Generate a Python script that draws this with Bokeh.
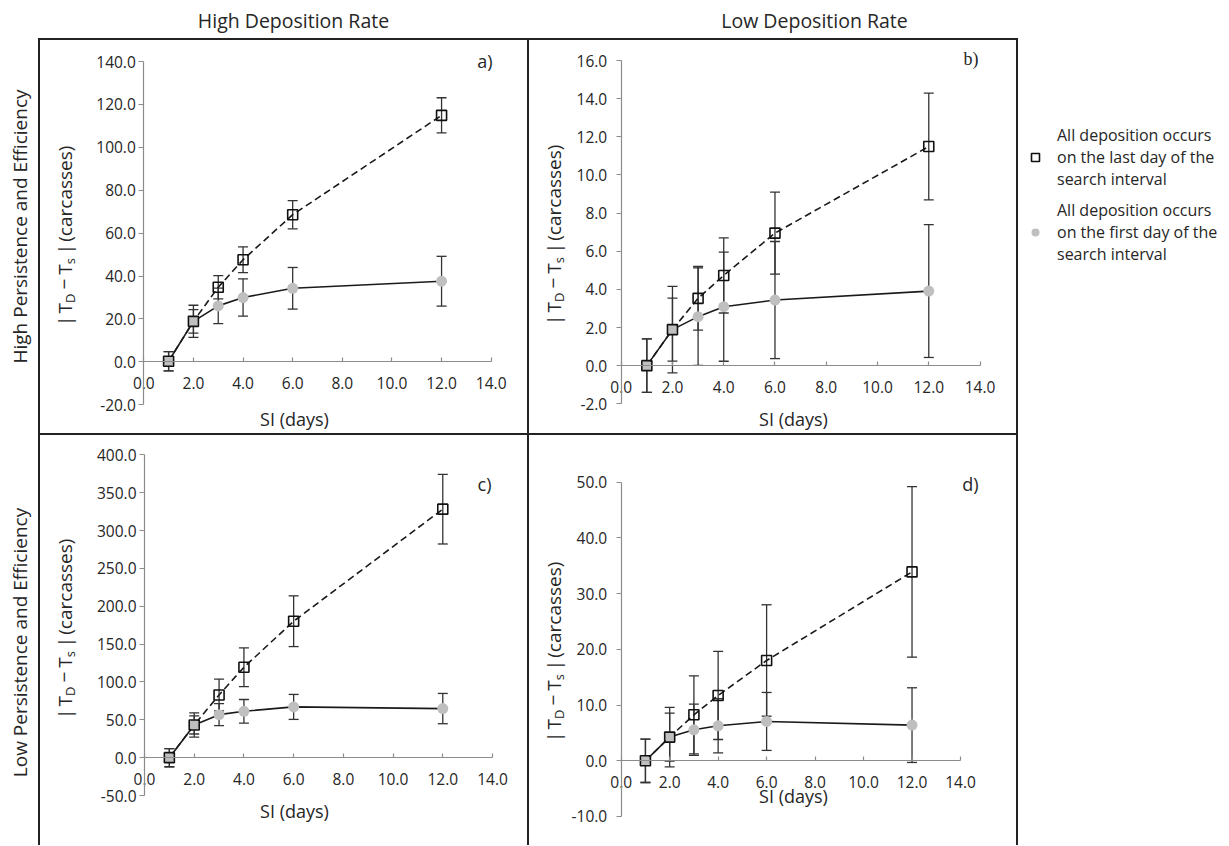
import math
from bokeh.plotting import figure
from bokeh.models import (Range1d, SingleIntervalTicker, NumeralTickFormatter, ColumnDataSource,
                          Whisker, TeeHead, Label, Legend, LegendItem, Spacer)
from bokeh.layouts import row, column
from bokeh.embed import file_html
from bokeh.resources import INLINE

# ---------------- data ----------------
SI = [1, 2, 3, 4, 6, 12]

# panel a: high deposition rate, high persistence & efficiency
a_last = [0.3, 18.9, 34.8, 47.6, 68.6, 114.9]
a_last_err = [4.5, 7.5, 5.4, 6.0, 6.6, 8.2]
a_first = [0.3, 18.9, 26.1, 30.0, 34.3, 37.6]
a_first_err = [4.5, 5.5, 8.3, 8.7, 9.7, 11.6]

# panel b: low deposition rate, high persistence & efficiency
b_last = [0.0, 1.89, 3.53, 4.73, 6.95, 11.49]
b_last_err = [1.4, 2.27, 1.67, 1.97, 2.15, 2.8]
b_first = [0.0, 1.89, 2.57, 3.09, 3.44, 3.91]
b_first_err = [1.4, 1.65, 2.56, 2.86, 3.07, 3.48]

# panel c: high deposition rate, low persistence & efficiency
c_last = [0.0, 43.2, 82.8, 119.4, 180.2, 328.2]
c_last_err = [12.0, 16.0, 21.0, 25.5, 33.5, 46.0]
c_first = [0.0, 43.2, 56.8, 61.2, 67.0, 64.8]
c_first_err = [12.0, 12.0, 14.5, 15.6, 16.5, 20.0]

# panel d: low deposition rate, low persistence & efficiency
d_last = [0.0, 4.25, 8.25, 11.72, 18.0, 33.9]
d_last_err = [3.9, 5.35, 7.0, 7.9, 10.0, 15.3]
d_first = [0.0, 4.25, 5.56, 6.28, 7.06, 6.4]
d_first_err = [3.9, 4.3, 4.6, 4.85, 5.2, 6.7]

col_titles = ["High Deposition Rate", "Low Deposition Rate"]
row_titles = ["High Persistence and Efficiency", "Low Persistence and Efficiency"]
legend_labels = ["All deposition occurs\non the last day of the\nsearch interval",
                 "All deposition occurs\non the first day of the\nsearch interval"]
x_label = "SI (days)"

FONT = "Open Sans"
TXT = "#262626"
AX = "#8c8c8c"
LINE = "#1a1a1a"
GRAY = "#bfbfbf"
BOX = "#222222"


def add_ylabel(p, xb, yc):
    fs, sfs = 19, 13
    pieces = [("|", 0, fs, 0.55, 2), ("T", 0, fs, 0.55, 0), ("D", 1, sfs, 0.73, 4),
              ("\u2212", 0, fs, 0.57, 4), ("T", 0, fs, 0.55, 0), ("s", 1, sfs, 0.47, 4),
              ("|", 0, fs, 0.55, 2), (" (carcasses)", 0, fs, 5.30, 0)]
    total = sum(w * f + g for _, _, f, w, g in pieces)
    y = yc - total / 2
    for t, sub, f, w, g in pieces:
        p.add_layout(Label(x=xb + (5 if sub else 0), y=y, x_units="screen", y_units="screen",
                           text=t, angle=math.pi / 2, text_align="left",
                           text_baseline="alphabetic", text_font=FONT,
                           text_font_size=f"{f}px", text_color=TXT))
        y += w * f + g


def make_panel(last, last_err, first, first_err, xr, yr, ybounds, dy, w, h,
               tag, tag_xy, tag_font, si_xy, ylab_xy, ystand):
    p = figure(width=w, height=h, x_range=Range1d(*xr), y_range=Range1d(*yr),
               output_backend="svg", toolbar_location=None, min_border=0)
    p.outline_line_color = None
    p.grid.visible = False
    p.background_fill_color = "white"
    p.border_fill_color = "white"

    xa = p.xaxis[0]
    xa.fixed_location = 0
    xa.bounds = (0, 14)
    xa.ticker = SingleIntervalTicker(interval=2)
    xa.formatter = NumeralTickFormatter(format="0.0")
    xa.minor_tick_line_color = None
    xa.major_tick_in = 4
    xa.major_tick_out = 0
    xa.major_label_standoff = 11
    ya = p.yaxis[0]
    ya.fixed_location = 0
    ya.bounds = ybounds
    ya.ticker = SingleIntervalTicker(interval=dy)
    ya.formatter = NumeralTickFormatter(format="0.0")
    ya.minor_tick_line_color = None
    ya.major_tick_in = 0
    ya.major_tick_out = 5
    ya.major_label_standoff = ystand
    for ax in (xa, ya):
        ax.axis_line_color = AX
        ax.axis_line_width = 1.2
        ax.major_tick_line_color = AX
        ax.major_tick_line_width = 1.2
        ax.major_label_text_font = FONT
        ax.major_label_text_font_size = "15.5px"
        ax.major_label_text_color = TXT

    src_f = ColumnDataSource(dict(x=SI, y=first,
                                  lo=[v - e for v, e in zip(first, first_err)],
                                  hi=[v + e for v, e in zip(first, first_err)]))
    src_l = ColumnDataSource(dict(x=SI, y=last,
                                  lo=[v - e for v, e in zip(last, last_err)],
                                  hi=[v + e for v, e in zip(last, last_err)]))

    p.line("x", "y", source=src_f, line_color=LINE, line_width=1.6)
    p.line("x", "y", source=src_l, line_color=LINE, line_width=1.6, line_dash="7 4")
    for src in (src_f, src_l):
        wk = Whisker(source=src, base="x", upper="hi", lower="lo",
                     line_color="#333333", line_width=1.3,
                     upper_head=TeeHead(size=10, line_color="#333333", line_width=1.3),
                     lower_head=TeeHead(size=10, line_color="#333333", line_width=1.3))
        p.add_layout(wk)
    p.scatter("x", "y", source=src_f, marker="circle", size=11, fill_color=GRAY, line_color=None)
    p.scatter("x", "y", source=src_l, marker="square", size=10, fill_color=None,
              line_color="#111111", line_width=1.6)

    p.add_layout(Label(x=tag_xy[0], y=tag_xy[1], x_units="screen", y_units="screen", text=tag,
                       text_align="right", text_baseline="top", text_font=tag_font,
                       text_font_size="18px", text_color=TXT))
    p.add_layout(Label(x=si_xy[0], y=si_xy[1], x_units="screen", y_units="screen", text=x_label,
                       text_align="center", text_baseline="middle", text_font=FONT,
                       text_font_size="18px", text_color=TXT))
    add_ylabel(p, *ylab_xy)
    return p


pa = make_panel(a_last, a_last_err, a_first, a_first_err, (-4.163, 15.463), (-33.38, 149.79),
                (-20, 140), 20, 487, 393, "a)", (452, 385), FONT, (254, 15), (24, 200), 3)
pb = make_panel(b_last, b_last_err, b_first, b_first_err, (-3.578, 15.423), (-3.557, 17.049),
                (-2, 16), 2, 487, 393, "b)", (449, 385), "Liberation Serif", (264, 15), (24, 201), 9)
pc = make_panel(c_last, c_last_err, c_first, c_first_err, (-4.184, 15.408), (-116.04, 425.49),
                (-50, 400), 50, 487, 410, "c)", (451, 374), FONT, (254, 35), (24, 219), 3)
pd = make_panel(d_last, d_last_err, d_first, d_first_err, (-3.784, 16.311), (-15.205, 58.38),
                (-10, 50), 10, 487, 410, "d)", (449, 374), FONT, (264, 50), (24, 196), 9)


def plain(w, h, **kw):
    f = figure(width=w, height=h, output_backend="svg", toolbar_location=None,
               x_axis_location=None, y_axis_location=None, min_border=0, **kw)
    f.outline_line_color = None
    f.grid.visible = False
    return f


def bar(w, h):
    return Spacer(width=w, height=h, styles={"background-color": BOX})


# header strip
top = plain(1228, 38, x_range=Range1d(0, 1228), y_range=Range1d(0, 38))
for t, xc in zip(col_titles, [293, 814]):
    top.add_layout(Label(x=xc, y=18, text=t, text_align="center", text_baseline="middle",
                         text_font=FONT, text_font_size="19.5px", text_color=TXT))

# row-title strip
left = plain(38, 807, x_range=Range1d(0, 38), y_range=Range1d(0, 807))
for t, yc in zip(row_titles, [619, 203]):
    left.add_layout(Label(x=19, y=yc, text=t, angle=math.pi / 2, text_align="center",
                          text_baseline="middle", text_font=FONT, text_font_size="19px",
                          text_color=TXT))

# legend strip
right = plain(210, 807, x_range=Range1d(0, 1), y_range=Range1d(0, 1))
r1 = right.scatter(x=[math.nan], y=[math.nan], marker="square", size=10, fill_color=None,
                   line_color="#111111", line_width=1.6)
r2 = right.scatter(x=[math.nan], y=[math.nan], marker="circle", size=12, fill_color=GRAY,
                   line_color=None)
leg = Legend(items=[LegendItem(label=legend_labels[0], renderers=[r1]),
                    LegendItem(label=legend_labels[1], renderers=[r2])],
             location=(7, 580), margin=0, padding=0, spacing=9, glyph_width=20,
             glyph_height=20, label_standoff=12, label_text_font=FONT,
             label_text_font_size="16px", label_text_line_height=0.9,
             label_text_color=TXT, border_line_color=None, background_fill_alpha=0)
right.add_layout(leg)

colA = column(pa, bar(487, 2), pc, spacing=0)
colB = column(pb, bar(487, 2), pd, spacing=0)
box = column(bar(980, 2), row(bar(2, 805), colA, bar(2, 805), colB, bar(2, 805), spacing=0),
             spacing=0)
layout = column(top, row(left, box, right, spacing=0), spacing=0)

open("out.html", "w").write(file_html(layout, INLINE))
